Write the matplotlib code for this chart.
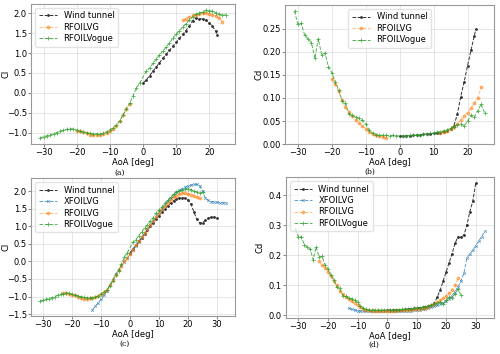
import numpy as np
import matplotlib
matplotlib.use("Agg")
import matplotlib.pyplot as plt

# ---- data ----
# wind tunnel, top panels
wt_top_aoa = [0, 1, 2, 3, 4, 5, 6, 7, 8, 9, 10, 11, 12, 13, 14, 15, 16, 17, 18, 19, 20, 21, 22, 22.5]
wt_top_cl = [0.25, 0.32, 0.43, 0.54, 0.65, 0.76, 0.87, 0.97, 1.07, 1.17, 1.27, 1.37, 1.47, 1.57,
             1.68, 1.82, 1.88, 1.87, 1.86, 1.83, 1.77, 1.68, 1.55, 1.46]
wt_top_cd = [0.017, 0.017, 0.018, 0.018, 0.019, 0.019, 0.02, 0.021, 0.022, 0.022, 0.023, 0.024, 0.025,
             0.027, 0.029, 0.033, 0.04, 0.065, 0.103, 0.135, 0.17, 0.203, 0.235, 0.25]

# wind tunnel, bottom panels
wt_bot_aoa = list(range(0, 31))
wt_bot_cl = [0.25, 0.36, 0.46, 0.57, 0.68, 0.79, 0.9, 1.0, 1.11, 1.21, 1.31, 1.41, 1.5, 1.59, 1.67, 1.73,
             1.78, 1.81, 1.82, 1.8, 1.75, 1.64, 1.42, 1.2, 1.1, 1.1, 1.18, 1.23, 1.27, 1.26, 1.25]
wt_bot_cd = [0.017, 0.017, 0.018, 0.018, 0.019, 0.019, 0.02, 0.021, 0.022, 0.023, 0.024, 0.026, 0.027,
             0.029, 0.031, 0.034, 0.04, 0.062, 0.085, 0.115, 0.145, 0.175, 0.205, 0.24, 0.262, 0.26,
             0.267, 0.3, 0.345, 0.38, 0.44]

# XFOILVG (bottom panels only)
xf_aoa = list(range(-13, 34))
xf_cl = [-1.38, -1.28, -1.18, -1.07, -0.96, -0.84, -0.68, -0.52, -0.37, -0.24, -0.12, -0.01, 0.1,
         0.2, 0.32, 0.44, 0.56, 0.68, 0.8, 0.92, 1.04, 1.16, 1.28, 1.4, 1.51, 1.62, 1.73, 1.82, 1.9,
         1.97, 2.03, 2.08, 2.12, 2.16, 2.18, 2.2, 2.2, 2.16, 2.0, 1.8, 1.74, 1.71, 1.7, 1.69, 1.68,
         1.68, 1.68]
xf_cd = [0.024, 0.021, 0.018, 0.016, 0.015, 0.014, 0.013, 0.013, 0.013, 0.013, 0.013, 0.013, 0.013,
         0.013, 0.014, 0.014, 0.014, 0.014, 0.015, 0.015, 0.016, 0.016, 0.017, 0.018, 0.019, 0.02,
         0.022, 0.024, 0.027, 0.03, 0.033, 0.037, 0.042, 0.048, 0.056, 0.066, 0.079, 0.095, 0.115,
         0.14, 0.19, 0.205, 0.218, 0.232, 0.248, 0.262, 0.28]

# RFOILVG, top panels (gap between -4 and 12)
rv_top_aoa = [-20, -19, -18, -17, -16, -15, -14, -13, -12, -11, -10, -9, -8, -7, -6, -5, -4, np.nan,
              12, 13, 14, 15, 16, 17, 18, 19, 20, 21, 22, 23, 24]
rv_top_cl = [-0.96, -0.97, -0.98, -1.01, -1.05, -1.07, -1.06, -1.05, -1.03, -1.0, -0.96, -0.9, -0.83,
             -0.72, -0.55, -0.4, -0.28, np.nan,
             1.83, 1.87, 1.91, 1.95, 1.97, 1.99, 2.0, 2.0, 1.99, 1.97, 1.94, 1.88, 1.79]
rv_top_cd = [0.141, 0.13, 0.115, 0.096, 0.08, 0.07, 0.06, 0.052, 0.046, 0.04, 0.033, 0.027, 0.022,
             0.019, 0.017, 0.015, 0.014, np.nan,
             0.024, 0.026, 0.029, 0.033, 0.038, 0.044, 0.052, 0.061, 0.068, 0.078, 0.088, 0.1, 0.123]

# RFOILVG, bottom panels
rv_bot_aoa = list(range(-23, 25))
rv_bot_cl = [-0.91, -0.9, -0.92, -0.95, -0.97, -1.0, -1.04, -1.07, -1.07, -1.05, -1.03, -1.01, -0.98,
             -0.94, -0.88, -0.8, -0.68, -0.53, -0.38, -0.25, -0.12, 0.0, 0.1, 0.22, 0.34, 0.46, 0.58,
             0.7, 0.81, 0.93, 1.04, 1.16, 1.27, 1.38, 1.49, 1.59, 1.68, 1.76, 1.83, 1.88, 1.92, 1.94,
             1.94, 1.93, 1.91, 1.88, 1.85, 1.8]
rv_bot_cd = [0.18, 0.168, 0.158, 0.145, 0.13, 0.115, 0.1, 0.08, 0.07, 0.06, 0.053, 0.047, 0.04, 0.033,
             0.027, 0.022, 0.019, 0.017, 0.016, 0.015, 0.015, 0.015, 0.015, 0.015, 0.016, 0.016, 0.016,
             0.017, 0.017, 0.018, 0.018, 0.019, 0.02, 0.021, 0.022, 0.024, 0.026, 0.029, 0.033, 0.037,
             0.043, 0.05, 0.057, 0.065, 0.074, 0.086, 0.1, 0.123]

# RFOILVogue (all panels)
vg_aoa = list(range(-31, 0)) + list(range(1, 26))
vg_cl = [-1.13, -1.11, -1.08, -1.06, -1.03, -1.0, -0.97, -0.94, -0.92, -0.9, -0.91, -0.94, -0.96,
         -0.98, -1.0, -1.02, -1.03, -1.03, -1.03, -1.02, -0.98, -0.93, -0.88, -0.81, -0.7, -0.56,
         -0.4, -0.26, -0.08, 0.12, 0.24,
         0.55, 0.62, 0.74, 0.85, 0.95, 1.05, 1.15, 1.25, 1.38, 1.47, 1.56, 1.66, 1.74, 1.83, 1.92,
         1.98, 2.02, 2.03, 2.08, 2.07, 2.05, 2.02, 1.98, 1.95, 1.97]
vg_cd = [0.288, 0.26, 0.262, 0.236, 0.228, 0.22, 0.186, 0.228, 0.194, 0.197, 0.168, 0.155, 0.135,
         0.118, 0.094, 0.09, 0.066, 0.064, 0.058, 0.056, 0.052, 0.044, 0.03, 0.024, 0.02, 0.019,
         0.019, 0.019, 0.018, 0.019, 0.018,
         0.018, 0.018, 0.019, 0.019, 0.02, 0.02, 0.021, 0.022, 0.023, 0.024, 0.026, 0.027, 0.029,
         0.031, 0.034, 0.038, 0.042, 0.044, 0.039, 0.05, 0.062, 0.058, 0.072, 0.087, 0.068]

# ---- styles ----
fs = 6
wt_kw = dict(color="#333333", ls="--", marker=".", ms=2, lw=0.7, label="Wind tunnel")
xf_kw = dict(color="tab:blue", ls="--", marker="x", ms=1.8, mew=0.6, lw=0.7, alpha=0.7, label="XFOILVG")
rv_kw = dict(color="tab:orange", ls="--", marker="o", ms=1.8, lw=0.7, alpha=0.5, label="RFOILVG")
vg_kw = dict(color="tab:green", ls="--", marker="+", ms=2.2, mew=0.6, lw=0.7, alpha=0.8, label="RFOILVogue")

fig = plt.figure(figsize=(5, 3.54), dpi=100)
ax_a = fig.add_axes([0.062, 0.593, 0.408, 0.396])
ax_b = fig.add_axes([0.57, 0.593, 0.418, 0.393])
ax_c = fig.add_axes([0.062, 0.107, 0.408, 0.390])
ax_d = fig.add_axes([0.572, 0.102, 0.416, 0.398])

ax_a.plot(wt_top_aoa, wt_top_cl, **wt_kw)
ax_a.plot(rv_top_aoa, rv_top_cl, **rv_kw)
ax_a.plot(vg_aoa, vg_cl, **vg_kw)

ax_b.plot(wt_top_aoa, wt_top_cd, **wt_kw)
ax_b.plot(rv_top_aoa, rv_top_cd, **rv_kw)
ax_b.plot(vg_aoa, vg_cd, **vg_kw)

ax_c.plot(wt_bot_aoa, wt_bot_cl, **wt_kw)
ax_c.plot(xf_aoa, xf_cl, **xf_kw)
ax_c.plot(rv_bot_aoa, rv_bot_cl, **rv_kw)
ax_c.plot(vg_aoa, vg_cl, **vg_kw)

ax_d.plot(wt_bot_aoa, wt_bot_cd, **wt_kw)
ax_d.plot(xf_aoa, xf_cd, **xf_kw)
ax_d.plot(rv_bot_aoa, rv_bot_cd, **rv_kw)
ax_d.plot(vg_aoa, vg_cd, **vg_kw)

ax_a.set_yticks(np.arange(-1.0, 2.01, 0.5))
ax_b.set_yticks(np.arange(0, 0.251, 0.05))
ax_c.set_yticks(np.arange(-1.5, 2.01, 0.5))
ax_d.set_yticks(np.arange(0, 0.41, 0.1))
ax_a.set_xticks([-30, -20, -10, 0, 10, 20])
ax_b.set_xticks([-30, -20, -10, 0, 10, 20])
ax_c.set_xticks([-30, -20, -10, 0, 10, 20, 30])
ax_d.set_xticks([-30, -20, -10, 0, 10, 20, 30])

for ax, yl, loc, lx in [(ax_a, "Cl", "upper left", -0.1), (ax_b, "Cd", "upper center", -0.105),
                        (ax_c, "Cl", "upper left", -0.1), (ax_d, "Cd", "upper left", -0.105)]:
    ax.set_xlabel("AoA [deg]", fontsize=fs, labelpad=0.5)
    ax.set_ylabel(yl, fontsize=fs)
    ax.yaxis.set_label_coords(lx, 0.5)
    ax.tick_params(labelsize=fs, length=2, width=0.5, pad=1, color="#555555")
    ax.grid(True, color="#cccccc", lw=0.5, alpha=0.7)
    for s in ax.spines.values():
        s.set_color("#999999")
        s.set_linewidth(0.8)
    ax.legend(loc=loc, fontsize=fs, handlelength=2.2, borderpad=0.4, labelspacing=0.3,
              framealpha=0.8, edgecolor="#dddddd", fancybox=True)

for x, y, t in [(0.24, 0.512, "(a)"), (0.74, 0.515, "(b)"), (0.25, 0.029, "(c)"), (0.748, 0.026, "(d)")]:
    fig.text(x, y, t, fontsize=5.5, family="DejaVu Serif", ha="center", va="center")

fig.savefig("out.png", dpi=100)
